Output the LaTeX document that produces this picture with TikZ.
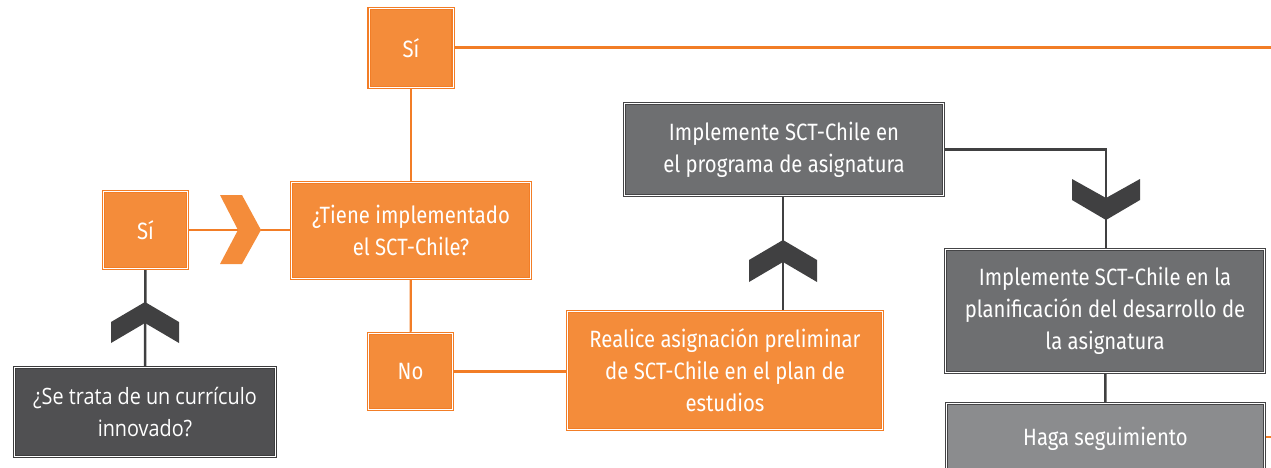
\documentclass[tikz,border=0pt]{standalone}
\usepackage{fontspec}
\setmainfont{Fira Sans}[FakeStretch=0.86]
\newfontfamily\qfont{Open Sans}[FakeStretch=0.88]
\definecolor{ofill}{RGB}{244,140,58}
\definecolor{oline}{RGB}{242,125,38}
\definecolor{dfill}{RGB}{80,80,82}
\definecolor{dbord}{RGB}{60,60,61}
\definecolor{gfill}{RGB}{110,111,113}
\definecolor{gbord}{RGB}{68,68,70}
\definecolor{lfill}{RGB}{139,140,142}
\definecolor{chev}{RGB}{64,64,65}
\pgfdeclarelayer{bg}
\pgfsetlayers{bg,main}
\tikzset{
  boxbase/.style={rectangle, align=center, text=white, inner sep=2pt, outer sep=0pt,
    font=\fontsize{23.6}{32}\selectfont, double=white, double distance=0.9pt, line width=1.2pt},
  obox/.style={boxbase, fill=ofill, draw=oline},
  dbox/.style={boxbase, fill=dfill, draw=dbord},
  gbox/.style={boxbase, fill=gfill, draw=gbord},
  lbox/.style={boxbase, fill=lfill, draw=gbord},
  oconn/.style={draw=oline, line width=2.2pt},
  dconn/.style={draw=chev, line width=2.5pt},
  ochev/.style={fill=ofill, draw=none},
  dchev/.style={fill=chev, draw=none},
}
\begin{document}
\begin{tikzpicture}[x=1pt,y=-1pt]
\useasboundingbox (0,0) rectangle (1271,468);
\clip (0,0) rectangle (1271,468);
% nodes
\node[obox, minimum width=84pt, minimum height=79pt] (si1) at (411,48) {Sí};
\node[obox, minimum width=239pt, minimum height=96pt] (tiene) at (411,230.5) {¿Tiene implementado\\el SCT-Chile?};
\node[obox, minimum width=84pt, minimum height=77pt] (si2) at (145.5,230) {Sí};
\node[obox, minimum width=84pt, minimum height=76pt] (no) at (410.5,371.5) {No};
\node[obox, minimum width=315pt, minimum height=118pt] (realice) at (725,370.5) {Realice asignación preliminar\\de SCT-Chile en el plan de\\estudios};
\node[gbox, minimum width=319pt, minimum height=92pt] (impl1) at (784,149.5) {Implemente SCT-Chile en\\el programa de asignatura};
\node[gbox, minimum width=319pt, minimum height=123pt] (impl2) at (1105,311) {Implemente SCT-Chile en la\\planificación del desarrollo de\\la asignatura};
\node[lbox, minimum width=318pt, minimum height=70pt] (haga) at (1105.5,438.5) {Haga seguimiento};
\node[dbox, minimum width=261pt, minimum height=89pt, font=\qfont\fontsize{22.5}{32}\selectfont] (setrata) at (145,412) {¿Se trata de un currículo\\innovado?};
\coordinate (rend1) at (1271,47.5);
\coordinate (rend2) at (1271,437);
% connectors
\begin{pgfonlayer}{bg}
\draw[oconn] (si1.east |- 0,47.5) -- (rend1);
\draw[oconn] (si1) -- (tiene);
\draw[oconn] (tiene) -- (no);
\draw[oconn] (si2) -- (si2 -| tiene.west);
\draw[oconn] (no.east) -- (no.east -| realice.west);
\draw[dconn] (impl1.south -| 783,0) -- (realice.north -| 783,0);
\draw[dconn] (impl1.east) -| (impl2.north -| 1106,0);
\draw[dconn] (impl2) -- (haga);
\draw[dconn] (setrata) -- (si2);
\draw[oconn] (haga.east |- 0,437) -- (rend2);
\end{pgfonlayer}
% chevrons
\fill[ochev] (220,195) -- (242,195) -- (261,230) -- (242,264) -- (220,264) -- (238,230) -- cycle;
\fill[dchev] (145,302) -- (179,322) -- (179,343) -- (145,323) -- (111,343) -- (111,322) -- cycle;
\fill[dchev] (783,240) -- (817,260) -- (817,282) -- (783,262) -- (749,282) -- (749,260) -- cycle;
\fill[dchev] (1072,179) -- (1106,198) -- (1140,179) -- (1140,200) -- (1106,220) -- (1072,200) -- cycle;
\end{tikzpicture}
\end{document}
